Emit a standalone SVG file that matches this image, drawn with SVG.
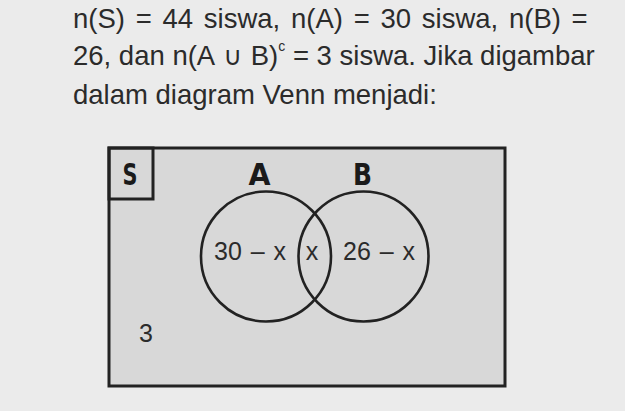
<svg xmlns="http://www.w3.org/2000/svg" width="625" height="411" viewBox="0 0 625 411">
<style>
.t{font-family:"Liberation Sans",Arial,"DejaVu Sans",sans-serif;font-size:27.5px;fill:#2b2b2b}
.lbl{font-family:"DejaVu Sans",sans-serif;font-weight:bold;font-size:31px;fill:#1a1a1a}
.v{font-family:"Liberation Sans",Arial,"DejaVu Sans",sans-serif;font-size:25px;fill:#2b2b2b}
.frame{fill:#d8d8d8;stroke:#222;stroke-width:3}
.ln{fill:none;stroke:#222;stroke-width:3}
.c{fill:none;stroke:#222;stroke-width:2.6}
</style>
<rect x="0" y="0" width="625" height="411" fill="#ebebeb"/>
<g id="paragraph">
<text class="t" x="73" y="28" word-spacing="3.1">n(S) = 44 siswa, n(A) = 30 siswa, n(B) =</text>
<text class="t" x="73" y="65" word-spacing="0">26, dan n(A<tspan font-family="DejaVu Sans" font-size="26"> ∪ </tspan>B)<tspan font-size="14" dy="-14">c</tspan><tspan dy="14"> = 3 siswa. Jika digambar</tspan></text>
<text class="t" x="73" y="104">dalam diagram Venn menjadi:</text>
</g>
<g id="universe">
<rect x="109" y="148" width="396" height="238" class="frame"/>
<rect x="109" y="148" width="44" height="51" class="ln"/>
<text class="lbl" x="122.5" y="185" textLength="15" lengthAdjust="spacingAndGlyphs">S</text>
<text class="v" x="139" y="342">3</text>
</g>
<g id="setA">
<circle cx="266" cy="256.5" r="65" class="c"/>
<text class="lbl" x="259.5" y="185" text-anchor="middle" textLength="22" lengthAdjust="spacingAndGlyphs">A</text>
<text class="v" x="214" y="260" word-spacing="2">30 – x</text>
</g>
<g id="setB">
<circle cx="363.5" cy="256.5" r="65" class="c"/>
<text class="lbl" x="362.5" y="185" text-anchor="middle" textLength="19" lengthAdjust="spacingAndGlyphs">B</text>
<text class="v" x="343" y="260" word-spacing="2">26 – x</text>
</g>
<g id="intersection">
<text class="v" x="312" y="260" text-anchor="middle">x</text>
</g>
<g id="connectors"></g>
</svg>
